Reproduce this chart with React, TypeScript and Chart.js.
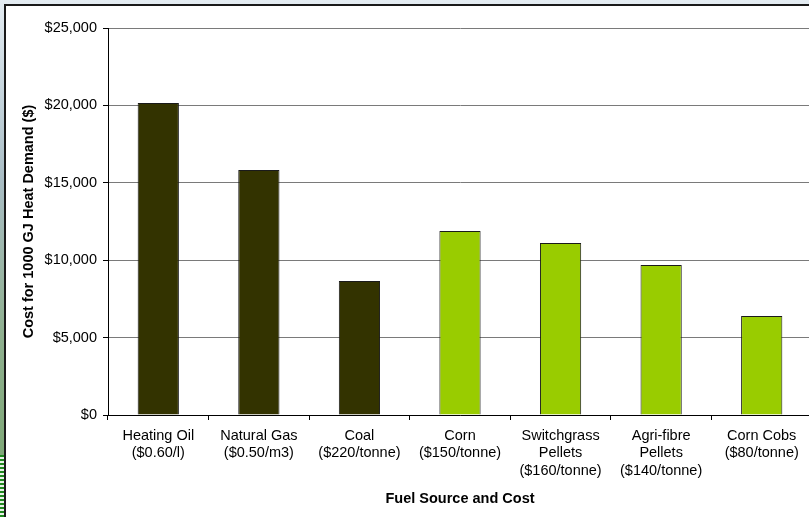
import React, { useEffect, useRef } from "react";
import { Chart, registerables } from "chart.js";

Chart.register(...registerables);

const categories: string[][] = [
  ["Heating Oil", "($0.60/l)"],
  ["Natural Gas", "($0.50/m3)"],
  ["Coal", "($220/tonne)"],
  ["Corn", "($150/tonne)"],
  ["Switchgrass", "Pellets", "($160/tonne)"],
  ["Agri-fibre", "Pellets", "($140/tonne)"],
  ["Corn Cobs", "($80/tonne)"],
];
const costs: number[] = [20150, 15830, 8660, 11890, 11110, 9690, 6390];
const barColors: string[] = ["#333300", "#333300", "#333300", "#99CC00", "#99CC00", "#99CC00", "#99CC00"];
const yTitle = "Cost for 1000 GJ Heat Demand ($)";
const xTitle = "Fuel Source and Cost";

const FONT = "'Liberation Sans', Arial, sans-serif";

export default function App() {
  const ref = useRef<HTMLCanvasElement | null>(null);
  useEffect(() => {
    if (!ref.current) return;
    const chart = new Chart(ref.current, {
      type: "bar",
      data: {
        labels: categories,
        datasets: [
          {
            data: costs,
            backgroundColor: barColors,
            borderColor: "#1a1a1a",
            borderWidth: 1,
            barPercentage: 0.41,
            categoryPercentage: 1,
          },
        ],
      },
      options: {
        animation: false,
        responsive: false,
        devicePixelRatio: 1,
        layout: { padding: { top: 22, left: 0, right: 4, bottom: 0 } },
        plugins: { legend: { display: false }, tooltip: { enabled: false } },
        scales: {
          x: {
            grid: {
              offset: true,
              drawOnChartArea: false,
              drawTicks: true,
              tickLength: 5,
              tickColor: "#000000",
            },
            border: { color: "#000000", width: 1 },
            ticks: {
              color: "#000000",
              padding: 7,
              maxRotation: 0,
              autoSkip: false,
              font: { family: FONT, size: 14.5, lineHeight: 1.2 },
            },
            title: {
              display: true,
              text: xTitle,
              color: "#000000",
              font: { family: FONT, size: 14.5, weight: "bold", lineHeight: 1.2 },
              padding: { top: 0, bottom: 9 },
            },
            afterFit: (s: any) => {
              s.height = 102;
            },
          },
          y: {
            min: 0,
            max: 25000,
            ticks: {
              stepSize: 5000,
              color: "#000000",
              padding: 6,
              font: { family: FONT, size: 14.5 },
              callback: (v: any) => "$" + Number(v).toLocaleString("en-US"),
            },
            grid: {
              color: "#7a7a7a",
              lineWidth: 1,
              tickLength: 5,
              tickColor: "#000000",
            },
            border: { color: "#000000", width: 1 },
            title: {
              display: true,
              text: yTitle,
              color: "#000000",
              font: { family: FONT, size: 14.5, weight: "bold", lineHeight: 1.2 },
              padding: { top: 14, bottom: 0 },
            },
            afterFit: (s: any) => {
              s.width = 102;
            },
          },
        },
      },
    });
    return () => chart.destroy();
  }, []);

  return (
    <div
      style={{
        position: "fixed",
        left: 0,
        top: 0,
        width: 809,
        height: 517,
        overflow: "hidden",
        background: "linear-gradient(to bottom, #e4ecf2 0%, #c2d2da 20%, #a9bdc4 35%, #8fb08f 65%, #7fa878 88%, #7fa878 100%)",
      }}
    >
      <div
        style={{
          position: "absolute",
          left: 0,
          top: 455,
          width: 6,
          height: 62,
          background: "repeating-linear-gradient(to bottom, #1f8a1f 0px, #1f8a1f 2px, #e8f2e8 2px, #e8f2e8 4px)",
        }}
      />
      <div
        style={{
          position: "absolute",
          left: 4,
          top: 4,
          width: 820,
          height: 520,
          background: "#ffffff",
          borderLeft: "2px solid #1a1a1a",
          borderTop: "2px solid #1a1a1a",
        }}
      >
        <canvas ref={ref} width={810} height={511} style={{ display: "block", width: 810, height: 511 }} />
      </div>
    </div>
  );
}
